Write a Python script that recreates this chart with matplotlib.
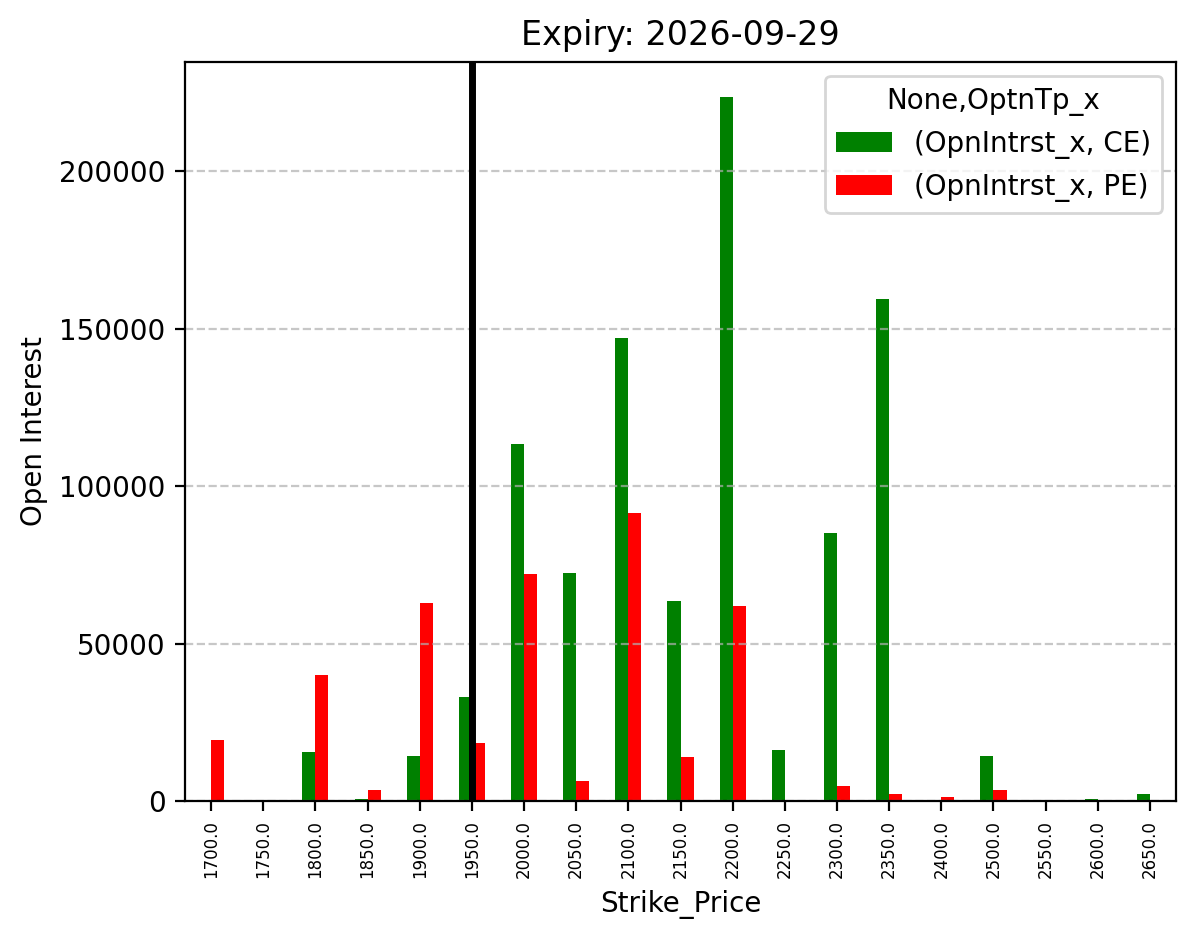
import matplotlib
matplotlib.use("Agg")
import matplotlib.pyplot as plt
import pandas as pd

strikes = [1700.0, 1750.0, 1800.0, 1850.0, 1900.0, 1950.0, 2000.0, 2050.0, 2100.0, 2150.0,
           2200.0, 2250.0, 2300.0, 2350.0, 2400.0, 2500.0, 2550.0, 2600.0, 2650.0]
ce_oi = [0, 0, 15600, 700, 14300, 33100, 113500, 72500, 146900, 63600,
         223500, 16200, 85200, 159300, 0, 14300, 0, 600, 2300]
pe_oi = [19500, 0, 40000, 3500, 63000, 18400, 72200, 6400, 91300, 14000,
         62000, 0, 4800, 2300, 1200, 3500, 0, 0, 0]
spot = 1950.0
expiry = "2026-09-29"

df = pd.DataFrame({"(OpnIntrst_x, CE)": ce_oi, "(OpnIntrst_x, PE)": pe_oi},
                  index=pd.Index(strikes, name="Strike_Price"))

fig, ax = plt.subplots(figsize=(5.98, 4.695), dpi=200)
fig.subplots_adjust(left=0.1547, right=0.9833, top=0.934, bottom=0.147)

df.plot(kind="bar", ax=ax, color=["green", "red"])
ax.axvline(x=strikes.index(spot), color="black", linewidth=2.5)

ax.set_title("Expiry: " + expiry)
ax.set_ylabel("Open Interest")
ax.set_xlabel("Strike_Price")
ax.tick_params(axis="x", labelsize=6)
ax.grid(axis="y", linestyle="--", alpha=0.7)
ax.legend(title="None,OptnTp_x")

plt.savefig("out.png")
